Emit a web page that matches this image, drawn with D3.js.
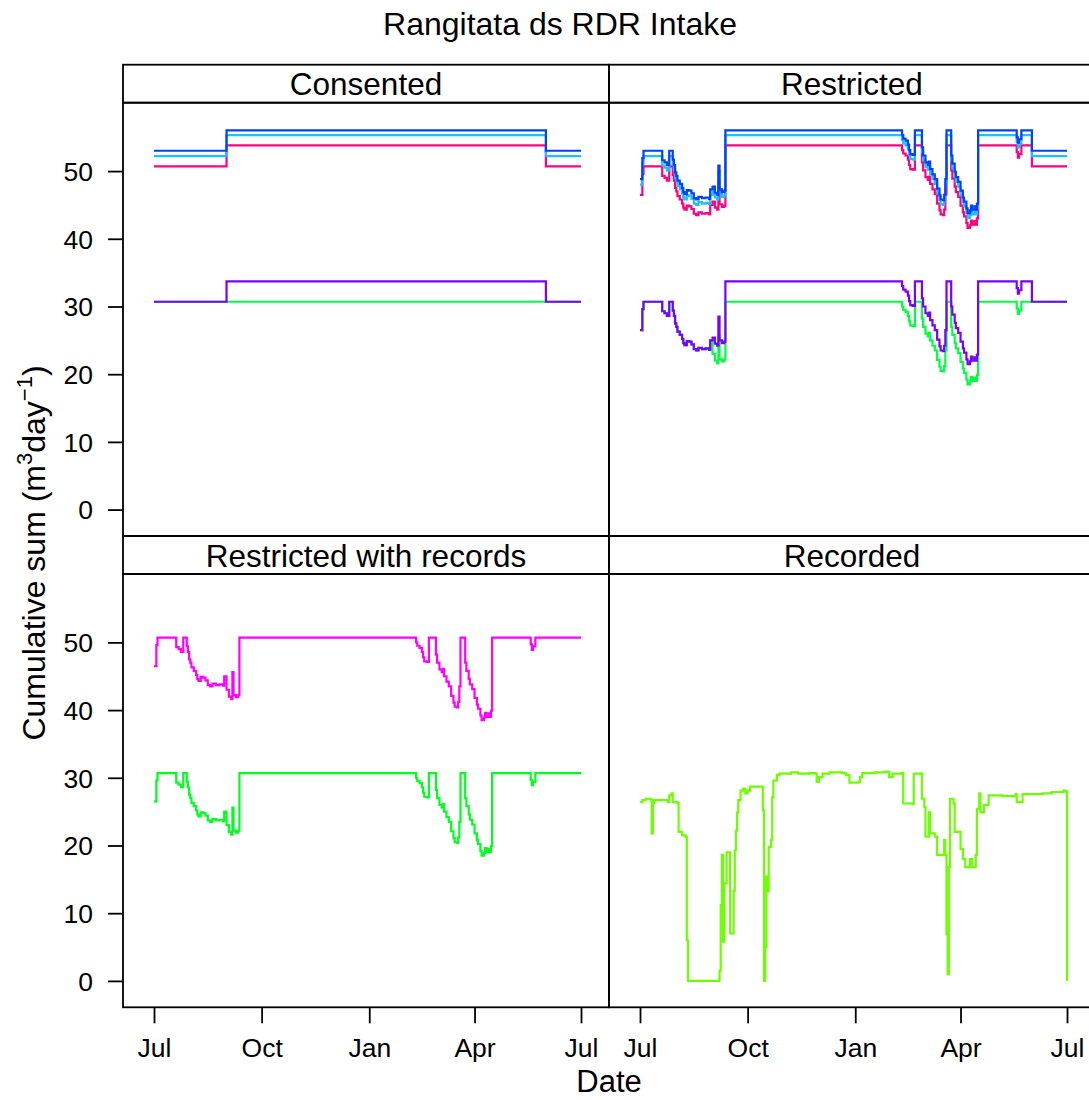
<!DOCTYPE html>
<html><head><meta charset="utf-8">
<script src="https://cdn.jsdelivr.net/npm/d3@7"></script>
<style>
body{margin:0;background:#fff}
text{font-family:"Liberation Sans",Arial,Helvetica,sans-serif;fill:#000}
</style>
</head><body>
<svg id="chart" width="1089" height="1100"></svg>
<script>
// ---------------- DATA (x = days since 1 Jul 2017) ----------------
const seasonStart = "2017-07-01";
const panelNames = ["Consented", "Restricted", "Restricted with records", "Recorded"];
const yTickValues = [0, 10, 20, 30, 40, 50];
const xTickDates = ["2017-07-01", "2017-10-01", "2018-01-01", "2018-04-01", "2018-07-01"];
const xTickLabels = ["Jul", "Oct", "Jan", "Apr", "Jul"];

// Consented
const consentedDay    = [0, 62, 335, 365];
const consentedBlue   = [53.0, 56.0, 53.0, 53.0];
const consentedCyan   = [52.2, 55.3, 52.2, 52.2];
const consentedPink   = [50.7, 53.8, 50.7, 50.7];
const consentedPurple = [30.7, 33.7, 30.7, 30.7];
const consentedGreen  = [30.7, 30.7, 30.7, 30.7];

// Restricted and restricted-with-records (shared change days)
const restrictedDay = [
  0,2,3,19,21,23,25,28,29,30,
  31,32,34,36,37,38,40,42,44,46,
  48,50,53,56,59,60,62,64,66,67,
  68,70,72,73,224,225,227,229,230,231,
  233,235,241,242,244,246,247,248,250,252,
  254,256,257,259,260,261,262,266,267,269,
  270,272,274,276,277,279,280,282,283,284,
  286,287,288,289,322,323,324,326,335,365];
const restrictedBlue = [
  48.8,51.9,53.0,51.6,51.3,50.9,53.0,51.7,50.9,49.8,
  49.3,48.6,48.1,47.5,46.9,46.6,47.2,47.1,46.7,46.0,
  45.8,46.2,46.0,46.1,45.9,47.3,47.7,46.8,46.5,50.8,
  47.3,46.9,47.1,56.0,55.3,54.8,54.5,53.9,53.1,52.5,
  52.4,56.0,53.5,52.3,51.3,50.9,51.4,50.3,49.5,48.8,
  47.4,46.4,45.8,45.7,46.5,48.8,56.0,52.3,51.1,49.9,
  49.1,48.4,47.1,46.1,45.5,44.5,43.8,44.2,44.9,44.3,
  44.8,44.3,45.2,56.0,55.0,54.2,54.7,56.0,53.0,53.0];
const restrictedCyan = [
  48.0,51.1,52.2,50.8,50.5,50.1,52.2,50.9,50.1,49.0,
  48.5,47.8,47.3,46.7,46.1,45.8,46.4,46.3,45.9,45.2,
  45.0,45.4,45.2,45.3,45.1,46.5,47.0,46.1,45.8,50.1,
  46.6,46.2,46.4,55.3,54.6,54.1,53.8,53.2,52.4,51.8,
  51.7,55.3,52.8,51.6,50.6,50.2,50.7,49.6,48.8,48.1,
  46.7,45.7,45.1,45.0,45.8,48.1,55.3,51.6,50.4,49.2,
  48.4,47.7,46.4,45.4,44.8,43.8,43.1,43.5,44.2,43.6,
  44.1,43.6,44.5,55.3,54.3,53.5,54.0,55.3,52.2,52.2];
const restrictedPink = [
  46.5,49.6,50.7,49.3,49.0,48.6,50.7,49.4,48.6,47.5,
  47.0,46.3,45.8,45.2,44.6,44.3,44.9,44.8,44.4,43.7,
  43.5,43.9,43.7,43.8,43.6,45.0,45.5,44.6,44.3,48.6,
  45.1,44.7,44.9,53.8,53.1,52.6,52.3,51.7,50.9,50.3,
  50.2,53.8,51.3,50.1,49.1,48.7,49.2,48.1,47.3,46.6,
  45.2,44.2,43.6,43.5,44.3,46.6,53.8,50.1,48.9,47.7,
  46.9,46.2,44.9,43.9,43.3,42.3,41.6,42.0,42.7,42.1,
  42.6,42.1,43.0,53.8,52.8,52.0,52.5,53.8,50.7,50.7];
const restrictedPurple = [
  26.5,29.6,30.7,29.3,29.0,28.6,30.7,29.4,28.6,27.5,
  27.0,26.3,25.8,25.2,24.6,24.3,24.9,24.8,24.4,23.7,
  23.5,23.9,23.7,23.8,23.6,25.0,25.4,24.5,24.2,28.5,
  25.0,24.6,24.8,33.7,33.0,32.5,32.2,31.6,30.8,30.2,
  30.1,33.7,31.2,30.0,29.0,28.6,29.1,28.0,27.2,26.5,
  25.1,24.1,23.5,23.4,24.2,26.5,33.7,30.0,28.8,27.6,
  26.8,26.1,24.8,23.8,23.2,22.2,21.5,21.9,22.6,22.0,
  22.5,22.0,22.9,33.7,32.7,31.9,32.4,33.7,30.7,30.7];
const restrictedGreen = [
  26.5,29.6,30.7,29.3,29.0,28.6,30.7,29.4,28.6,27.5,
  27.0,26.3,25.8,25.2,24.6,24.3,24.9,24.8,24.4,23.7,
  23.5,23.9,23.7,23.8,23.6,25.0,23.0,22.0,21.6,25.6,
  22.2,21.9,22.2,30.7,30.0,29.5,29.2,28.6,27.8,27.2,
  27.1,30.7,28.2,27.0,26.0,25.6,26.1,25.0,24.2,23.5,
  22.1,21.1,20.5,20.4,21.2,23.5,30.7,27.0,25.8,24.6,
  23.8,23.1,21.8,20.8,20.2,19.2,18.5,18.9,19.6,19.0,
  19.5,19.0,19.9,30.7,29.7,28.9,29.4,30.7,30.7,30.7];
const recordsMagenta = [
  46.5,49.6,50.7,49.3,49.0,48.6,50.7,49.4,48.6,47.5,
  47.0,46.3,45.8,45.2,44.6,44.3,44.9,44.8,44.4,43.7,
  43.5,43.9,43.7,43.8,43.6,45.0,43.0,42.0,41.6,45.6,
  42.2,41.9,42.2,50.7,50.0,49.5,49.2,48.6,47.8,47.2,
  47.1,50.7,48.2,47.0,46.0,45.6,46.1,45.0,44.2,43.5,
  42.1,41.1,40.5,40.4,41.2,43.5,50.7,47.0,45.8,44.6,
  43.8,43.1,41.8,40.8,40.2,39.2,38.5,38.9,39.6,39.0,
  39.5,39.0,39.9,50.7,49.7,48.9,49.4,50.7,50.7,50.7];
const recordsGreen = restrictedGreen;

// Recorded
const recordedDay = [
  0,2,5,9,10,11,12,24,25,27,28,32,33,36,39,40,41,68,69,70,
  71,72,74,77,80,81,82,83,84,86,88,90,92,94,104,105,106,107,108,109,
  110,112,113,114,117,119,129,135,145,150,151,153,156,162,173,176,179,187,188,190,
  201,210,213,216,224,225,233,234,240,241,243,244,246,247,248,250,252,254,258,260,
  261,262,263,264,265,268,269,273,274,276,278,282,284,287,288,290,291,294,298,310,
  321,322,325,327,344,352,362,364,365];
const recordedValue = [
  26.4,26.7,26.9,26.8,21.8,26.2,26.7,26.4,27.4,27.7,26.4,26.3,22.0,21.5,21.3,6.0,0.0,1.5,11.2,18.6,
  5.8,14.4,19.0,7.0,13.3,19.3,22.2,24.9,26.7,28.1,28.4,27.7,28.1,28.7,28.7,25.2,0.0,5.0,15.4,13.3,
  19.8,20.8,27.1,29.6,30.4,30.6,30.8,30.6,30.7,30.6,29.4,30.1,30.6,30.8,30.7,30.4,29.3,29.4,30.1,30.7,
  30.8,30.9,30.1,30.6,30.7,26.2,26.1,30.6,30.6,26.9,25.7,21.3,21.3,24.9,21.8,21.8,21.3,18.6,18.6,20.8,
  18.6,6.9,1.0,16.8,26.9,26.2,22.0,22.0,19.5,18.0,16.8,18.0,16.8,18.6,25.4,27.7,24.9,26.0,27.4,27.3,
  27.6,26.4,26.4,27.6,27.7,27.9,28.1,28.0,0.0];

// ---------------- LAYOUT ----------------
const svg = d3.select("#chart");
const FONT = '"Liberation Sans",Arial,Helvetica,sans-serif';
const colX = [123, 609];
const panelW = 486;
const rows = [
  {stripTop: 64.7, top: 102.7, bottom: 536.0},
  {stripTop: 536.0, top: 574.0, bottom: 1007.3}
];
const yDomain = [-3.9, 60.1];
const parse = d3.timeParse("%Y-%m-%d");
const start = parse(seasonStart);
const toDate = d => d3.timeDay.offset(start, d);

function mk(days, vals, color) {
  return {pts: days.map((d, i) => [toDate(d), vals[i]]), color};
}

const panels = [
  {name: panelNames[0], col: 0, row: 0, series: [
    mk(consentedDay, consentedGreen, "#00FF40"),
    mk(consentedDay, consentedPurple, "#7A00FF"),
    mk(consentedDay, consentedPink, "#FF0080"),
    mk(consentedDay, consentedCyan, "#1CC0FF"),
    mk(consentedDay, consentedBlue, "#0040FF")]},
  {name: panelNames[1], col: 1, row: 0, series: [
    mk(restrictedDay, restrictedGreen, "#00FF40"),
    mk(restrictedDay, restrictedPurple, "#7A00FF"),
    mk(restrictedDay, restrictedPink, "#FF0080"),
    mk(restrictedDay, restrictedCyan, "#1CC0FF"),
    mk(restrictedDay, restrictedBlue, "#0040FF")]},
  {name: panelNames[2], col: 0, row: 1, series: [
    mk(restrictedDay, recordsMagenta, "#FF00FF"),
    mk(restrictedDay, recordsGreen, "#00FF20")]},
  {name: panelNames[3], col: 1, row: 1, series: [
    mk(recordedDay, recordedValue, "#6CFF00")]}
];

// Title
svg.append("text").attr("x", 560).attr("y", 35).attr("text-anchor", "middle")
  .style("font-size", "32px").text("Rangitata ds RDR Intake");

const defs = svg.append("defs");

panels.forEach((p, i) => {
  const x0 = colX[p.col];
  const r = rows[p.row];
  const x = d3.scaleTime()
    .domain([parse(xTickDates[0]), parse(xTickDates[4])])
    .range([x0 + 31, x0 + 458]);
  const y = d3.scaleLinear().domain(yDomain).range([r.bottom, r.top]);

  defs.append("clipPath").attr("id", "clip" + i)
    .append("rect").attr("x", x0).attr("y", r.top).attr("width", panelW).attr("height", r.bottom - r.top);

  const line = d3.line().curve(d3.curveStepAfter).x(d => x(d[0])).y(d => y(d[1]));
  const g = svg.append("g").attr("clip-path", `url(#clip${i})`);
  p.series.forEach(s => {
    g.append("path").datum(s.pts).attr("d", line)
      .attr("fill", "none").attr("stroke", s.color).attr("stroke-width", 2.2)
      .attr("stroke-linejoin", "miter");
  });

  // strip
  svg.append("rect").attr("x", x0).attr("y", r.stripTop).attr("width", panelW)
    .attr("height", r.top - r.stripTop).attr("fill", "none").attr("stroke", "#000").attr("stroke-width", 1.8);
  svg.append("text").attr("x", x0 + panelW / 2).attr("y", r.top - 7.5)
    .attr("text-anchor", "middle").style("font-size", "31.5px").text(p.name);
  // panel border
  svg.append("rect").attr("x", x0).attr("y", r.top).attr("width", panelW)
    .attr("height", r.bottom - r.top).attr("fill", "none").attr("stroke", "#000").attr("stroke-width", 1.8);

  // y axis on left column
  if (p.col === 0) {
    const ax = svg.append("g").attr("transform", `translate(${x0},0)`)
      .call(d3.axisLeft(y).tickValues(yTickValues).tickSize(15).tickPadding(15).tickFormat(d3.format("d")));
    ax.select(".domain").remove();
    ax.selectAll("line").attr("stroke-width", 1.8);
    ax.selectAll("text").style("font-size", "26.5px").attr("font-family", FONT).attr("dy", "0.35em");
  }
  // x axis on bottom row
  if (p.row === 1) {
    const ax = svg.append("g").attr("transform", `translate(0,${r.bottom})`)
      .call(d3.axisBottom(x).tickValues(xTickDates.map(parse)).tickSize(16).tickPadding(15)
        .tickFormat((d, k) => xTickLabels[k]));
    ax.select(".domain").remove();
    ax.selectAll("line").attr("stroke-width", 1.8);
    ax.selectAll("text").style("font-size", "26.5px").attr("font-family", FONT);
  }
});

// Axis titles
svg.append("text").attr("x", 609).attr("y", 1092).attr("text-anchor", "middle")
  .style("font-size", "31px").text("Date");

const yl = svg.append("text").attr("transform", "translate(45,553) rotate(-90)")
  .attr("text-anchor", "middle").style("font-size", "32px");
yl.append("tspan").text("Cumulative sum (m");
yl.append("tspan").attr("dy", -13).style("font-size", "22px").text("3");
yl.append("tspan").attr("dy", 13).text("day");
yl.append("tspan").attr("dy", -13).style("font-size", "22px").text("\u22121");
yl.append("tspan").attr("dy", 13).text(")");
</script>
</body></html>
